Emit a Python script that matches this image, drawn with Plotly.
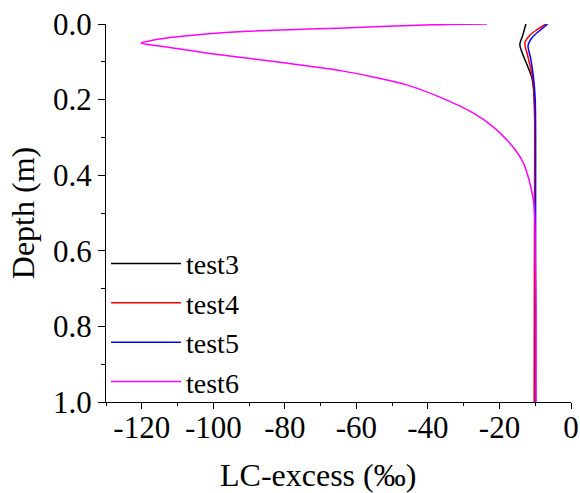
import plotly.graph_objects as go

# ---- data (LC-excess in permil vs depth in m) ----
test3_lc = [-12.6, -13.5, -14.3, -13.5, -12.2, -11.0, -10.5, -10.2, -10.1, -10.0, -10.0]
test3_depth = [0.0, 0.03, 0.055, 0.08, 0.11, 0.14, 0.17, 0.22, 0.3, 0.5, 1.0]

test4_lc = [-7.1, -9.5, -11.5, -12.9, -12.2, -11.2, -10.5, -10.2, -10.2, -10.3]
test4_depth = [0.0, 0.015, 0.03, 0.05, 0.08, 0.12, 0.16, 0.22, 0.5, 1.0]

test5_lc = [-6.5, -8.8, -10.8, -12.0, -11.3, -10.5, -10.0, -9.9, -9.9]
test5_depth = [0.0, 0.018, 0.035, 0.057, 0.09, 0.14, 0.2, 0.5, 1.0]

test6_lc = [-23.5, -38.6, -61.8, -91.7, -110.0, -117.0, -120.2, -118.5, -115.0,
            -101.0, -82.4, -64.0, -55.0, -46.0, -37.0, -27.4, -22.0, -17.9, -15.2,
            -13.3, -11.8, -10.5, -10.1, -10.0, -9.8, -9.8]
test6_depth = [0.0, 0.002, 0.01, 0.02, 0.034, 0.043, 0.05, 0.054, 0.058,
               0.078, 0.1, 0.124, 0.141, 0.161, 0.192, 0.235, 0.27, 0.307, 0.338,
               0.368, 0.41, 0.466, 0.52, 0.6, 0.75, 1.0]

series_names = ["test3", "test4", "test5", "test6"]
series_colors = ["#000000", "#FF0000", "#0000FF", "#FF00FF"]

x_ticks = [-120, -100, -80, -60, -40, -20, 0]
y_ticks = [0.0, 0.2, 0.4, 0.6, 0.8, 1.0]

FONT = "Liberation Serif"

fig = go.Figure()
for name, color, xs, ys in zip(series_names, series_colors,
                               [test3_lc, test4_lc, test5_lc, test6_lc],
                               [test3_depth, test4_depth, test5_depth, test6_depth]):
    fig.add_trace(go.Scatter(x=xs, y=ys, mode="lines", name=name,
                             line=dict(color=color, width=1.5, shape="spline", smoothing=0.8)))

fig.update_layout(
    width=580, height=493,
    margin=dict(l=106, r=9, t=24, b=91, autoexpand=False),
    paper_bgcolor="white", plot_bgcolor="white",
    font=dict(family=FONT, size=30, color="black"),
    showlegend=True,
    legend=dict(x=0.0, y=0.432, xanchor="left", yanchor="top",
                bgcolor="rgba(0,0,0,0)", font=dict(family=FONT, size=28),
                itemwidth=70, tracegroupgap=0),
    xaxis=dict(range=[-130, 0], tickvals=x_ticks, ticktext=[str(v) for v in x_ticks],
               automargin=False,
               showline=True, linecolor="black", linewidth=1.3,
               ticks="outside", ticklen=6, tickwidth=1.3, tickcolor="black",
               minor=dict(ticks="outside", ticklen=3, dtick=10, tick0=0, tickcolor="black", tickwidth=1.3),
               showgrid=False, zeroline=False,
               tickfont=dict(family=FONT, size=31), ticklabelstandoff=-8),
    yaxis=dict(range=[1.0, 0.0], tickvals=y_ticks, ticktext=[f"{v:.1f}" for v in y_ticks],
               automargin=False,
               showline=True, linecolor="black", linewidth=1.3,
               ticks="outside", ticklen=7, tickwidth=1.3, tickcolor="black",
               minor=dict(ticks="outside", ticklen=4, dtick=0.1, tick0=0, tickcolor="black", tickwidth=1.3),
               showgrid=False, zeroline=False,
               tickfont=dict(family=FONT, size=31),
               title=dict(text="Depth (m)", font=dict(family=FONT, size=32), standoff=8)),
    annotations=[dict(text="LC-excess (‰)", xref="paper", yref="paper",
                      x=0.456, y=-0.14, xanchor="center", yanchor="top",
                      showarrow=False, font=dict(family=FONT, size=32))],
)

fig.write_html("out.html")
